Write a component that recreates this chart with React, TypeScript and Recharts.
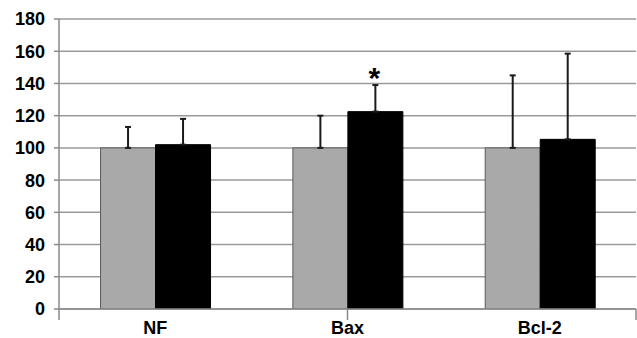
import React from "react";
import {
  BarChart,
  Bar,
  XAxis,
  YAxis,
  CartesianGrid,
  ErrorBar,
  LabelList,
  ReferenceLine,
} from "recharts";

const categories = ["NF", "Bax", "Bcl-2"];
const controlValues = [100, 100, 100];
const controlErrors = [13, 20, 45];
const treatedValues = [102, 122.5, 105.3];
const treatedErrors = [16, 16.5, 53.2];
const significance = ["", "*", ""];
const yTicks = [0, 20, 40, 60, 80, 100, 120, 140, 160, 180];
const edgeTicks = [0, 1, 2, 3];
const edgeTickDepth = -6.8;

const data = categories.map((c, i) => ({
  name: c,
  control: controlValues[i],
  controlErr: [0, controlErrors[i]],
  treated: treatedValues[i],
  treatedErr: [0, treatedErrors[i]],
  mark: significance[i],
}));

const FONT = "'Liberation Sans', Arial, Helvetica, sans-serif";

const StarLabel = (props: any) => {
  const { x, y, width, height, value, index } = props;
  if (!value) return null;
  const pxPerUnit = height / treatedValues[index];
  const errTop = y - treatedErrors[index] * pxPerUnit;
  return (
    <text
      x={x + width / 2 - 1}
      y={errTop + 3}
      textAnchor="middle"
      fontFamily={FONT}
      fontWeight="bold"
      fontSize={30}
      fill="#000"
    >
      {value}
    </text>
  );
};

export default function App() {
  return (
    <div style={{ position: "absolute", left: 0, top: 0, background: "#fff" }}>
      <BarChart
        width={637}
        height={338}
        data={data}
        margin={{ top: 19, right: 1, left: 0, bottom: 0 }}
        barCategoryGap="21.6%"
        barGap={0}
      >
        <CartesianGrid horizontal vertical={false} stroke="#9a9a9a" strokeWidth={1.5} />
        <XAxis
          dataKey="name"
          height={29}
          tickLine={false}
          tickSize={0}
          tickMargin={12}
          axisLine={{ stroke: "#8a8a8a", strokeWidth: 1.5 }}
          tick={{ fontFamily: FONT, fontWeight: "bold", fontSize: 18, fill: "#000" }}
        />
        <XAxis
          xAxisId="edges"
          type="number"
          domain={[0, 3]}
          allowDataOverflow
          hide
        />
        <YAxis
          width={59}
          domain={[0, 180]}
          ticks={yTicks}
          interval={0}
          tickSize={5}
          tickMargin={9}
          allowDataOverflow
          axisLine={{ stroke: "#8a8a8a", strokeWidth: 1.5 }}
          tickLine={{ stroke: "#8a8a8a", strokeWidth: 1.5 }}
          tick={{ fontFamily: FONT, fontWeight: "bold", fontSize: 18, fill: "#000" }}
        />
        <ReferenceLine xAxisId="edges" x={3} stroke="#9a9a9a" strokeWidth={1.5} />
        {edgeTicks.map((t) => (
          <ReferenceLine
            key={t}
            xAxisId="edges"
            ifOverflow="visible"
            segment={[
              { x: t, y: 0 },
              { x: t, y: edgeTickDepth },
            ]}
            stroke="#8a8a8a"
            strokeWidth={1.5}
          />
        ))}
        <Bar dataKey="control" fill="#a9a9a9" stroke="#5a5a5a" strokeWidth={1} isAnimationActive={false}>
          <ErrorBar dataKey="controlErr" width={3} stroke="#1a1a1a" strokeWidth={2} />
        </Bar>
        <Bar dataKey="treated" fill="#000" stroke="#000" strokeWidth={1} isAnimationActive={false}>
          <ErrorBar dataKey="treatedErr" width={3} stroke="#1a1a1a" strokeWidth={2} />
          <LabelList dataKey="mark" content={<StarLabel />} />
        </Bar>
      </BarChart>
    </div>
  );
}
